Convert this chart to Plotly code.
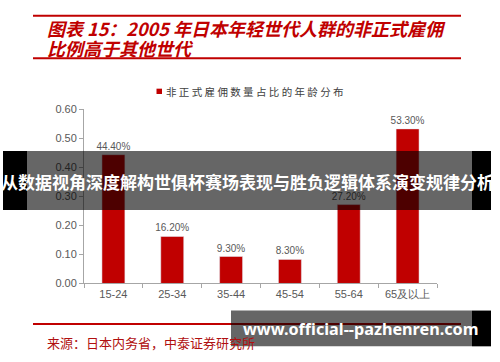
import plotly.graph_objects as go

categories = ["15-24", "25-34", "35-44", "45-54", "55-64", "65及以上"]
values = [0.444, 0.162, 0.093, 0.083, 0.272, 0.533]
value_labels = ["44.40%", "16.20%", "9.30%", "8.30%", "27.20%", "53.30%"]
y_ticks = [0.0, 0.1, 0.2, 0.3, 0.4, 0.5, 0.6]

W, H = 500, 362
RED = "#c00000"
GRAY = "#595959"
CJK = "Noto Sans CJK SC"

def px(x):
    return x / W

def py(y):
    return 1 - y / H

fig = go.Figure()
fig.add_trace(go.Bar(
    x=categories, y=values, marker_color=RED,
    text=value_labels, textposition="outside", cliponaxis=False,
    constraintext="none",
    textfont=dict(size=10, color=GRAY, family="Arial, Liberation Sans"),
    showlegend=False,
))

shapes = []
# title rules
for y in (10, 54, 329):
    shapes.append(dict(type="line", xref="paper", yref="paper",
                       x0=px(33), x1=px(461), y0=py(y), y1=py(y),
                       line=dict(color=RED, width=2)))
# legend square
shapes.append(dict(type="rect", xref="paper", yref="paper",
                   x0=px(156.5), x1=px(162), y0=py(85.5), y1=py(91),
                   fillcolor=RED, line=dict(width=0)))
# overlay bands
def band(x0, x1, y0, y1, color):
    shapes.append(dict(type="rect", xref="paper", yref="paper", layer="above",
                       x0=px(x0), x1=px(x1), y0=py(y0), y1=py(y1),
                       fillcolor=color, line=dict(width=0)))

band(27, 472, 150, 211, "rgba(0,0,0,0.6)")
band(3, 27, 150, 211, "#000000")
band(472, 491, 150, 211, "#000000")
band(231, 472, 315, 352, "rgba(0,0,0,0.6)")
band(472, 491, 315, 352, "#000000")

def note(text, x, y, size, color, family, xanchor="left"):
    return dict(text=text, x=px(x), y=py(y), xref="paper", yref="paper",
                xanchor=xanchor, yanchor="middle", showarrow=False,
                font=dict(size=size, color=color, family=family))

annotations = [
    note("<b><i>图表 15：2005 年日本年轻世代人群的非正式雇佣</i></b>", 45, 23, 18, RED, CJK),
    note("<b><i>比例高于其他世代</i></b>", 45, 43, 18, RED, CJK),
    note("非 正 式 雇 佣 数 量 占 比 的 年 龄 分 布", 164, 88, 10.5, "#404040", CJK),
    note("来源：日本内务省，中泰证券研究所", 45, 348, 13, "#b01010", CJK),
    note("<b>从数据视角深度解构世俱杯赛场表现与胜负逻辑体系演变规律分析</b>", 247, 181, 17,
         "white", CJK, xanchor="center"),
    note("<b>www.official--pazhenren.com</b>", 241, 334, 16.2, "white", "Noto Sans"),
]

fig.update_layout(
    width=W, height=H, margin=dict(l=0, r=0, t=0, b=0),
    paper_bgcolor="white", plot_bgcolor="white",
    bargap=0.61,
    xaxis=dict(domain=[px(84), px(437)], showgrid=False, showline=True,
               linecolor="#a6a6a6", linewidth=1, ticks="outside", ticklen=4,
               tickcolor="#a6a6a6", tickson="boundaries", tickangle=0,
               tickfont=dict(size=11, color=GRAY, family="Arial, Liberation Sans")),
    yaxis=dict(domain=[py(287), py(107)], range=[0, 0.6], tickvals=y_ticks,
               tickformat=".2f", showgrid=False, zeroline=False, showline=True,
               linecolor="#a6a6a6", linewidth=1, ticks="outside", ticklen=4,
               tickcolor="#a6a6a6",
               tickfont=dict(size=11, color=GRAY, family="Arial, Liberation Sans")),
    shapes=shapes, annotations=annotations,
)

fig.write_html("out.html")
